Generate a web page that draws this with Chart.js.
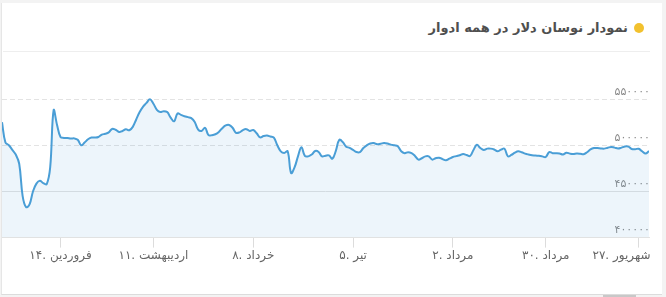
<!DOCTYPE html>
<html>
<head>
<meta charset="utf-8">
<script src="https://cdn.jsdelivr.net/npm/chart.js@4"></script>
<style>
  body { margin: 0; width: 666px; height: 297px; overflow: hidden; background: #f3f3f3; font-family: 'DejaVu Sans', sans-serif; }
  .card { position: absolute; left: 1px; top: 3px; width: 660px; height: 291px; background: #fff; border-left: 1px solid #e6e6e6; border-bottom: 1px solid #dcdcdc; }
  .dot { position: absolute; left: 634px; top: 23px; width: 10px; height: 10px; border-radius: 50%; background: #f2c12e; }
  .title { position: absolute; right: 38px; top: 19px; line-height: 18px; font-size: 13px; font-weight: bold; color: #4f4f4f; direction: rtl; white-space: nowrap; }
  .sep { position: absolute; left: 3px; top: 51px; width: 647px; height: 1px; background: #eeeeee; }
  .wrap { position: absolute; left: 2px; top: 52px; width: 651px; height: 218px; }
  .thumb { position: absolute; left: 603px; top: 295px; width: 33px; height: 2px; background: #c8c8c8; }
</style>
</head>
<body>
<div class="card"></div>
<div class="dot"></div>
<div class="title">نمودار نوسان دلار در همه ادوار</div>
<div class="sep"></div>
<div class="wrap"><canvas id="chart"></canvas></div>
<div class="thumb"></div>
<script>
// daily dollar rate
const prices = [
  525000, 503000, 500000, 495000, 490000, 480000, 445000, 433000, 436000, 450000,
  458500, 461500, 459000, 458000, 476000, 538000, 522000, 509000, 508000, 508000,
  507300, 507500, 506000, 500000, 503000, 506500, 508400, 508400, 509000, 511500,
  512500, 514000, 517700, 516800, 514500, 515500, 517400, 516300, 520000, 528000,
  536000, 542000, 546000, 550000, 545000, 538500, 536000, 537000, 536000, 530000,
  526000, 534500, 533000, 531500, 530500, 529500, 525300, 517000, 515500, 519000,
  511000, 511000, 512000, 514500, 518500, 521500, 522000, 519000, 513500, 514000,
  516500, 517500, 515500, 516500, 513000, 508600, 510000, 510500, 509500, 508400,
  500000, 493500, 491700, 493500, 470000, 476000, 488000, 498000, 488500, 488000,
  490000, 493800, 492800, 488000, 488800, 489000, 485500, 494000, 506000, 503500,
  498500, 497300, 495000, 492700, 492700, 497000, 500000, 502000, 502500, 501100,
  501700, 502500, 502000, 500700, 500000, 499000, 493500, 491500, 492500, 491500,
  488500, 484500, 486000, 488000, 488000, 484500, 486000, 486600, 485000, 483700,
  485500, 487300, 488300, 489200, 490500, 489500, 488400, 495000, 500500, 497000,
  495000, 496400, 496400, 495500, 493500, 495300, 496400, 488000, 489500, 492000,
  493500, 492500, 491000, 490000, 489200, 489000, 488600, 488000, 487300, 492700,
  491500, 491500, 491200, 490000, 492000, 491000, 490500, 491000, 490800, 490300,
  492500, 495500, 497000, 497000, 496600, 496400, 497300, 498200, 497500, 496600,
  497500, 498800, 498600, 496000, 495800, 496300, 493500, 491000, 493800
];
const tickIdx = [17, 44, 73, 102, 131, 158, 185];
const tickLabels = ['۱۴. فروردین', '۱۱. اردیبهشت', '۸. خرداد', '۵. تیر', '۲. مرداد', '۳۰. مرداد', '۲۷. شهریور'];
// the last label is pulled left so it stays inside the card
const labelIdx = [17, 44, 73, 102, 131, 158, 180];
const yMin = 400000, yMax = 600000, yStep = 50000;

const fa = n => String(n).replace(/\d/g, d => '۰۱۲۳۴۵۶۷۸۹'[d]);

new Chart(document.getElementById('chart'), {
  type: 'line',
  data: {
    datasets: [{
      data: prices.map((p, i) => ({ x: i, y: p })),
      borderColor: '#4a9ed6',
      borderWidth: 2,
      backgroundColor: 'rgba(74,158,214,0.1)',
      fill: 'start',
      tension: 0.4,
      pointRadius: 0
    }]
  },
  options: {
    responsive: true,
    maintainAspectRatio: false,
    animation: false,
    layout: { padding: { top: 1, right: 2, bottom: 6, left: 0 } },
    plugins: { legend: { display: false }, tooltip: { enabled: false } },
    scales: {
      x: {
        type: 'linear',
        min: 0,
        max: prices.length - 1,
        afterBuildTicks: axis => {
          const vals = [...new Set(tickIdx.concat(labelIdx))].sort((a, b) => a - b);
          axis.ticks = vals.map(v => ({ value: v }));
        },
        afterFit: axis => { axis.paddingLeft = 0; axis.paddingRight = 0; },
        ticks: {
          autoSkip: false,
          maxRotation: 0,
          padding: 1,
          color: '#666',
          font: { family: "'DejaVu Sans', sans-serif", size: 12 },
          callback: v => tickLabels[labelIdx.indexOf(v)] || ''
        },
        grid: {
          drawOnChartArea: false,
          tickLength: 10,
          tickColor: ctx => ctx.tick && tickIdx.includes(ctx.tick.value) ? '#dcdcdc' : 'rgba(0,0,0,0)'
        },
        border: { color: '#e3e3e3' }
      },
      y: {
        position: 'right',
        min: yMin,
        max: yMax,
        afterFit: axis => { axis.paddingTop = 0; axis.paddingBottom = 0; },
        ticks: {
          stepSize: yStep,
          mirror: true,
          padding: 1,
          labelOffset: -7,
          color: '#8a8a8a',
          font: { family: "'DejaVu Sans', sans-serif", size: 11 },
          callback: v => v === yMax ? '' : fa(v)
        },
        grid: {
          drawTicks: false,
          color: ctx => ctx.tick && ctx.tick.value === yMax ? 'rgba(0,0,0,0)' : '#e3e3e3'
        },
        border: {
          display: false,
          dash: ctx => ctx.tick && ctx.tick.value >= 500000 ? [5, 3] : []
        }
      }
    }
  }
});
</script>
</body>
</html>
